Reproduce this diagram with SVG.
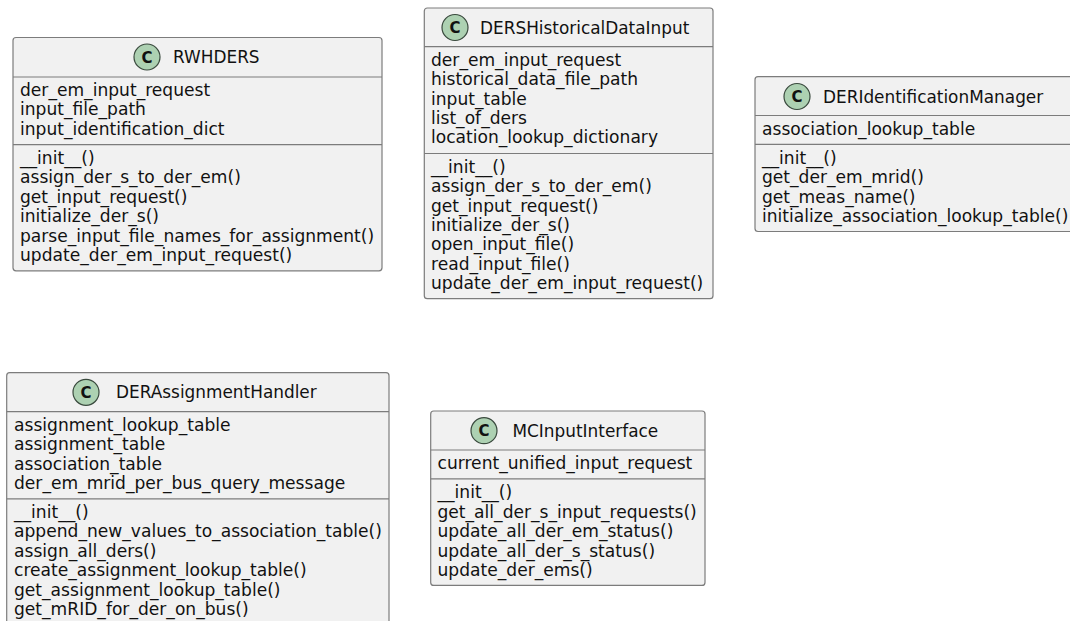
<svg xmlns="http://www.w3.org/2000/svg" width="1070" height="621" viewBox="0 0 1070 621">
  <style>
    .box { fill: #F1F1F1; stroke: #7c7c7c; stroke-width: 1.2; }
    .sep { stroke: #7c7c7c; stroke-width: 1.2; }
    .badge { fill: #ADD1B2; stroke: #3a4a3e; stroke-width: 1.2; }
    .badge-letter { font-family: "DejaVu Sans", sans-serif; font-size: 15px; font-weight: bold; fill: #111; text-anchor: middle; }
    .title { font-family: "DejaVu Sans", sans-serif; font-size: 16.9px; fill: #111; }
    .member { font-family: "DejaVu Sans", sans-serif; font-size: 17.1px; fill: #111; }
  </style>
  <rect width="1070" height="621" fill="#FFFFFF"/>

  <!-- class RWHDERS -->
  <g id="RWHDERS">
    <rect class="box" x="13" y="37.5" width="369" height="233.3" rx="3"/>
    <line class="sep" x1="13" y1="77" x2="382" y2="77"/>
    <line class="sep" x1="13" y1="144.7" x2="382" y2="144.7"/>
    <circle class="badge" cx="147" cy="57" r="13"/>
    <text class="badge-letter" x="147" y="62.5">C</text>
    <text class="title" x="173" y="63">RWHDERS</text>
    <text class="member" x="20" y="96">der_em_input_request</text>
    <text class="member" x="20" y="115.4">input_file_path</text>
    <text class="member" x="20" y="134.8">input_identification_dict</text>
    <text class="member" x="20" y="164">__init__()</text>
    <text class="member" x="20" y="183.4">assign_der_s_to_der_em()</text>
    <text class="member" x="20" y="202.8">get_input_request()</text>
    <text class="member" x="20" y="222.2">initialize_der_s()</text>
    <text class="member" x="20" y="241.6">parse_input_file_names_for_assignment()</text>
    <text class="member" x="20" y="261">update_der_em_input_request()</text>
  </g>

  <!-- class DERSHistoricalDataInput -->
  <g id="DERSHistoricalDataInput">
    <rect class="box" x="424.3" y="8" width="288.7" height="290.7" rx="3"/>
    <line class="sep" x1="424.3" y1="46.7" x2="713" y2="46.7"/>
    <line class="sep" x1="424.3" y1="153.5" x2="713" y2="153.5"/>
    <circle class="badge" cx="455" cy="27.5" r="13"/>
    <text class="badge-letter" x="455" y="33">C</text>
    <text class="title" x="480" y="33.5">DERSHistoricalDataInput</text>
    <text class="member" x="431" y="65.7">der_em_input_request</text>
    <text class="member" x="431" y="85.1">historical_data_file_path</text>
    <text class="member" x="431" y="104.5">input_table</text>
    <text class="member" x="431" y="123.9">list_of_ders</text>
    <text class="member" x="431" y="143.3">location_lookup_dictionary</text>
    <text class="member" x="431" y="172.8">__init__()</text>
    <text class="member" x="431" y="192.2">assign_der_s_to_der_em()</text>
    <text class="member" x="431" y="211.6">get_input_request()</text>
    <text class="member" x="431" y="231">initialize_der_s()</text>
    <text class="member" x="431" y="250.4">open_input_file()</text>
    <text class="member" x="431" y="269.8">read_input_file()</text>
    <text class="member" x="431" y="289.2">update_der_em_input_request()</text>
  </g>

  <!-- class DERIdentificationManager -->
  <g id="DERIdentificationManager">
    <rect class="box" x="755" y="76.7" width="322" height="154.8" rx="3"/>
    <line class="sep" x1="755" y1="115.5" x2="1077" y2="115.5"/>
    <line class="sep" x1="755" y1="144.4" x2="1077" y2="144.4"/>
    <circle class="badge" cx="797" cy="96.5" r="13"/>
    <text class="badge-letter" x="797" y="102">C</text>
    <text class="title" x="823" y="102.5">DERIdentificationManager</text>
    <text class="member" x="762" y="134.8">association_lookup_table</text>
    <text class="member" x="762" y="163.8">__init__()</text>
    <text class="member" x="762" y="183.2">get_der_em_mrid()</text>
    <text class="member" x="762" y="202.6">get_meas_name()</text>
    <text class="member" x="762" y="222">initialize_association_lookup_table()</text>
  </g>

  <!-- class DERAssignmentHandler -->
  <g id="DERAssignmentHandler">
    <rect class="box" x="6.7" y="372.7" width="382.3" height="270" rx="3"/>
    <line class="sep" x1="6.7" y1="411.7" x2="389" y2="411.7"/>
    <line class="sep" x1="6.7" y1="498.8" x2="389" y2="498.8"/>
    <circle class="badge" cx="86" cy="392.3" r="13"/>
    <text class="badge-letter" x="86" y="397.8">C</text>
    <text class="title" x="116" y="398.3">DERAssignmentHandler</text>
    <text class="member" x="14" y="431">assignment_lookup_table</text>
    <text class="member" x="14" y="450.4">assignment_table</text>
    <text class="member" x="14" y="469.8">association_table</text>
    <text class="member" x="14" y="489.2">der_em_mrid_per_bus_query_message</text>
    <text class="member" x="14" y="518">__init__()</text>
    <text class="member" x="14" y="537.4">append_new_values_to_association_table()</text>
    <text class="member" x="14" y="556.8">assign_all_ders()</text>
    <text class="member" x="14" y="576.2">create_assignment_lookup_table()</text>
    <text class="member" x="14" y="595.6">get_assignment_lookup_table()</text>
    <text class="member" x="14" y="615">get_mRID_for_der_on_bus()</text>
  </g>

  <!-- class MCInputInterface -->
  <g id="MCInputInterface">
    <rect class="box" x="430.7" y="411" width="274.3" height="174.4" rx="3"/>
    <line class="sep" x1="430.7" y1="450" x2="705" y2="450"/>
    <line class="sep" x1="430.7" y1="478.9" x2="705" y2="478.9"/>
    <circle class="badge" cx="484" cy="430.7" r="13"/>
    <text class="badge-letter" x="484" y="436.2">C</text>
    <text class="title" x="512.5" y="436.7">MCInputInterface</text>
    <text class="member" x="437.5" y="469.3">current_unified_input_request</text>
    <text class="member" x="437.5" y="498.3">__init__()</text>
    <text class="member" x="437.5" y="517.7">get_all_der_s_input_requests()</text>
    <text class="member" x="437.5" y="537.1">update_all_der_em_status()</text>
    <text class="member" x="437.5" y="556.5">update_all_der_s_status()</text>
    <text class="member" x="437.5" y="575.9">update_der_ems()</text>
  </g>

  <!-- no relations between these classes -->
  <g id="connectors"/>
</svg>
